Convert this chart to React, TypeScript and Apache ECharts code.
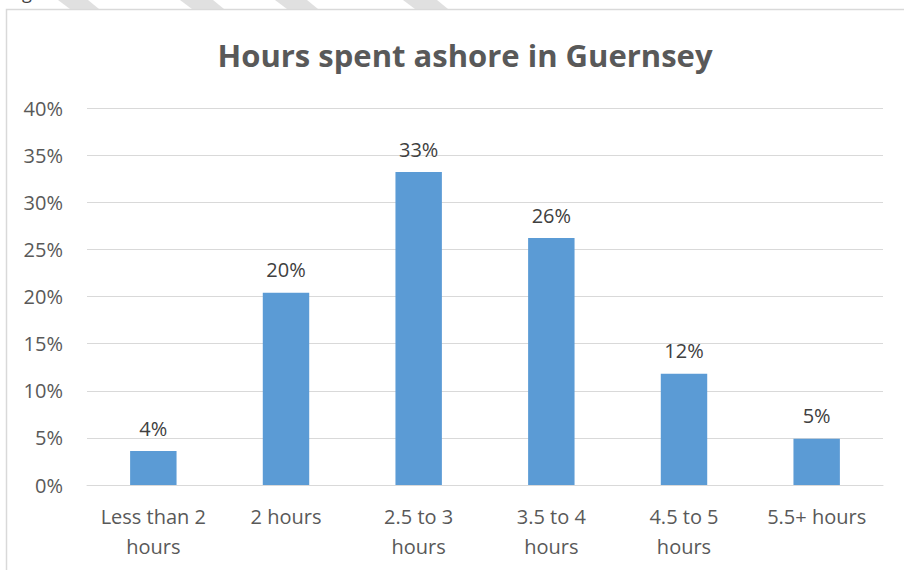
import React, { useEffect, useRef } from "react";
import * as echarts from "echarts";

const categories = [
  "Less than 2\nhours",
  "2 hours",
  "2.5 to 3\nhours",
  "3.5 to 4\nhours",
  "4.5 to 5\nhours",
  "5.5+ hours",
];
const shares = [3.6, 20.4, 33.2, 26.2, 11.8, 4.9];
const titleText = "Hours spent ashore in Guernsey";

const FONT = "'Open Sans', sans-serif";

export default function App() {
  const ref = useRef<HTMLDivElement>(null);
  useEffect(() => {
    if (!ref.current) return;
    const chart = echarts.init(ref.current, null, { renderer: "svg" });
    const stripe = (a: number, b: number) => ({
      type: "polygon",
      silent: true,
      z: -10,
      shape: { points: [[a, 0], [b, 0], [b + 11, 9], [a + 12, 9]] },
      style: { fill: "#e0e0e0" },
    });
    chart.setOption({
      animation: false,
      backgroundColor: "#ffffff",
      title: {
        text: titleText,
        left: 460,
        top: 34,
        textAlign: "center",
        textStyle: {
          fontFamily: FONT,
          fontWeight: "bold",
          fontSize: 31,
          color: "#595959",
        },
      },
      graphic: [
        stripe(58, 88),
        stripe(180, 213),
        stripe(275, 307),
        stripe(403, 437),
        {
          type: "text",
          x: 22,
          y: -17,
          silent: true,
          style: { text: "g", fontSize: 18, fontFamily: FONT, fill: "#404040" },
        },
        {
          type: "rect",
          silent: true,
          z: -5,
          shape: { x: 6.5, y: 9.5, width: 1000, height: 1000 },
          style: { fill: "none", stroke: "#d9d9d9", lineWidth: 1.5 },
        },
      ],
      grid: { left: 87, right: 21, top: 108, bottom: 85, containLabel: false },
      xAxis: {
        type: "category",
        data: categories,
        axisLine: { show: true, lineStyle: { color: "#d9d9d9", width: 1 } },
        axisTick: { show: false },
        axisLabel: {
          interval: 0,
          color: "#595959",
          fontFamily: FONT,
          fontSize: 20,
          lineHeight: 30,
          margin: 16,
        },
      },
      yAxis: {
        type: "value",
        min: 0,
        max: 40,
        interval: 5,
        axisLine: { show: false },
        axisTick: { show: false },
        splitLine: { lineStyle: { color: "#d9d9d9", width: 1 } },
        axisLabel: {
          formatter: "{value}%",
          color: "#595959",
          fontFamily: FONT,
          fontSize: 20,
          margin: 24,
        },
      },
      series: [
        {
          type: "bar",
          data: shares,
          barCategoryGap: "65%",
          itemStyle: { color: "#5b9bd5" },
          label: {
            show: true,
            position: "top",
            distance: 13,
            formatter: (p: any) => Math.round(p.value) + "%",
            color: "#404040",
            fontFamily: FONT,
            fontSize: 20,
          },
        },
      ],
    });
    return () => chart.dispose();
  }, []);
  return (
    <div
      ref={ref}
      style={{ position: "fixed", left: 0, top: 0, width: 904, height: 570 }}
    />
  );
}
